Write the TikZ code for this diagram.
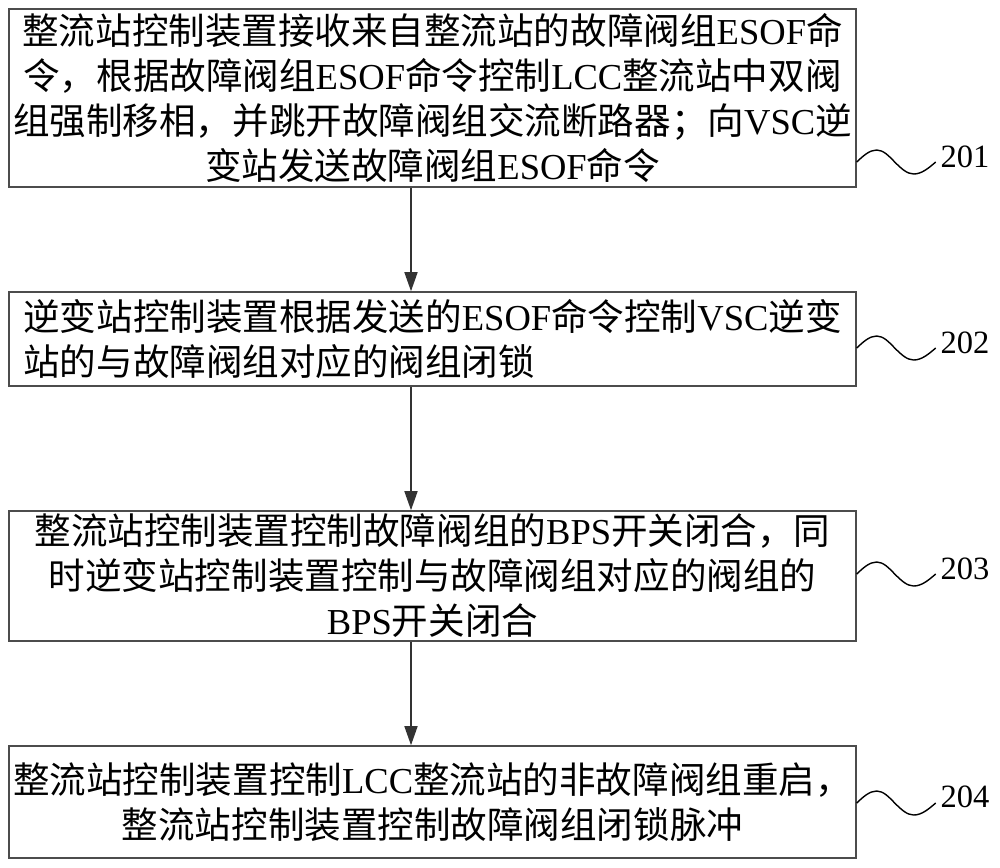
\documentclass[tikz,border=0pt]{standalone}
\usepackage{fontspec}
\setmainfont{Noto Sans CJK SC}
\newfontfamily\latin{Liberation Serif}
\newcommand{\en}[1]{{\latin #1}}
\usetikzlibrary{arrows.meta, positioning}
\tikzset{
    box/.style={
        rectangle,
        draw=black!70,
        line width=0.9pt,
        minimum width=16.94cm,
        align=center,
        inner sep=0pt,
        font=\fontsize{20.8}{25.6}\selectfont
    },
    arrow/.style={
        -{Triangle[length=0.38cm,width=0.26cm]},
        line width=0.9pt,
        draw=black!80
    },
    wave/.style={line width=0.8pt, draw=black},
    tag/.style={font=\latin\fontsize{18.5}{20}\selectfont, inner sep=0pt}
}

\begin{document}
\begin{tikzpicture}[x=0.02cm, y=-0.02cm]
    \useasboundingbox (0,0) rectangle (1000,867);

    % Steps
    \node[box, minimum height=3.56cm] (s201) at (432.5,98)
        {整流站控制装置接收来自整流站的故障阀组\en{ESOF}命\\
         令，根据故障阀组\en{ESOF}命令控制\en{LCC}整流站中双阀\\
         组强制移相，并跳开故障阀组交流断路器；向\en{VSC}逆\\
         变站发送故障阀组\en{ESOF}命令};
    \node[box, align=left, minimum height=1.88cm] (s202) at (432.5,339)
        {逆变站控制装置根据发送的\en{ESOF}命令控制\en{VSC}逆变\\
         站的与故障阀组对应的阀组闭锁};
    \node[box, minimum height=2.6cm] (s203) at (432.5,576)
        {整流站控制装置控制故障阀组的\en{BPS}开关闭合，同\\
         时逆变站控制装置控制与故障阀组对应的阀组的\\
         \en{BPS}开关闭合};
    \node[box, minimum height=2.24cm] (s204) at (432.5,802)
        {整流站控制装置控制\en{LCC}整流站的非故障阀组重启，\\
         整流站控制装置控制故障阀组闭锁脉冲};

    % Arrows
    \coordinate (ax) at (411,0);
    \draw[arrow] (s201.south -| ax) -- (s202.north -| ax);
    \draw[arrow] (s202.south -| ax) -- (s203.north -| ax);
    \draw[arrow] (s203.south -| ax) -- (s204.north -| ax);

    % Step numbers
    \node[tag] (n201) at (965,157) {201};
    \node[tag] (n202) at (965,343) {202};
    \node[tag] (n203) at (965,569) {203};
    \node[tag] (n204) at (965,797) {204};
    \draw[wave] (s201.east |- 0,162) sin ++(20,-12) cos ++(18,12) sin ++(19,12) cos ++(22,-12);
    \draw[wave] (s202.east |- 0,348) sin ++(20,-12) cos ++(18,12) sin ++(19,12) cos ++(22,-12);
    \draw[wave] (s203.east |- 0,574) sin ++(20,-12) cos ++(18,12) sin ++(19,12) cos ++(22,-12);
    \draw[wave] (s204.east |- 0,803) sin ++(20,-12) cos ++(18,12) sin ++(19,12) cos ++(22,-12);
\end{tikzpicture}
\end{document}
